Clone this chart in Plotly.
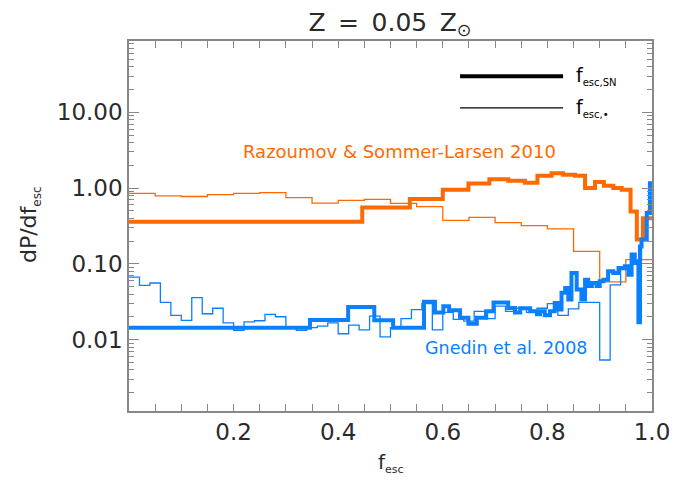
import plotly.graph_objects as go

# ---------------- Data ----------------
# Razoumov & Sommer-Larsen 2010, f_esc,SN (thick)
rsl_sn_edges = [0.0, 0.446, 0.537, 0.600, 0.649, 0.689, 0.725, 0.757, 0.781, 0.808,
                0.830, 0.853, 0.872, 0.891, 0.908, 0.926, 0.942, 0.959, 0.971, 0.983, 1.0]
rsl_sn_vals = [0.36, 0.556, 0.72, 0.95, 1.15, 1.31, 1.25, 1.18, 1.45, 1.57,
               1.5, 1.45, 1.0, 1.2, 1.07, 1.0, 0.95, 0.49, 0.21, 0.40]

# Razoumov & Sommer-Larsen 2010, f_esc,* (thin), bins of 0.05
rsl_star_edges = [0.0, 0.05, 0.10, 0.15, 0.20, 0.25, 0.30, 0.35, 0.40, 0.45, 0.50,
                  0.55, 0.60, 0.65, 0.70, 0.75, 0.80, 0.85, 0.90, 0.95, 1.0]
rsl_star_vals = [0.85, 0.79, 0.775, 0.82, 0.85, 0.87, 0.75, 0.635, 0.69, 0.71,
                 0.63, 0.57, 0.375, 0.41, 0.35, 0.32, 0.29, 0.146, 0.058, 0.114]

# Gnedin et al. 2008, f_esc,SN (thick)
gn_sn_edges = [0.0, 0.346, 0.419, 0.469, 0.505, 0.564, 0.585, 0.601, 0.612, 0.633,
               0.649, 0.665, 0.683, 0.697, 0.725, 0.738, 0.748, 0.767, 0.780, 0.786,
               0.795, 0.805, 0.814, 0.820, 0.827, 0.834, 0.840, 0.846, 0.856, 0.865,
               0.872, 0.878, 0.885, 0.894, 0.900, 0.907, 0.916, 0.926, 0.936, 0.948,
               0.955, 0.961, 0.967, 0.974, 0.977, 0.980, 0.990, 0.996, 1.0]
gn_sn_vals = [0.0144, 0.0182, 0.027, 0.018, 0.0144, 0.0316, 0.0228, 0.0277, 0.0245,
              0.0195, 0.0163, 0.0195, 0.0237, 0.031, 0.0263, 0.0228, 0.026, 0.0237,
              0.0216, 0.0237, 0.021, 0.0237, 0.0306, 0.025, 0.0417, 0.048, 0.034,
              0.076, 0.046, 0.034, 0.062, 0.051, 0.056, 0.051, 0.059, 0.062, 0.080,
              0.076, 0.088, 0.093, 0.072, 0.133, 0.103, 0.017, 0.17, 0.21, 0.47, 1.16]

# Gnedin et al. 2008, f_esc,* (thin), bins of 0.02
gn_star_edges = [i / 50 for i in range(51)]
gn_star_vals = [0.067, 0.052, 0.056, 0.031, 0.021, 0.018, 0.036, 0.022, 0.026, 0.0167,
                0.0133, 0.0172, 0.0178, 0.0216, 0.0201, 0.0144, 0.0133, 0.0144, 0.0151, 0.0167,
                0.0120, 0.0156, 0.0135, 0.0205, 0.0109, 0.0144, 0.019, 0.025, 0.030, 0.0135,
                0.023, 0.0185, 0.0176, 0.0237, 0.019, 0.0277, 0.0237, 0.026, 0.023, 0.026,
                0.030, 0.021, 0.0256, 0.031, 0.031, 0.0054, 0.053, 0.084, 0.11, 0.40]

ORANGE = "#FF6A00"
BLUE = "#0A80FF"
FONT = "DejaVu Sans"
TXT = "#2a2a2a"


def step_xy(edges, vals):
    # histogram-style: each value held over its bin
    return list(edges), list(vals) + [vals[-1]]


def small_sub(base, sub, px=11):
    return f"{base}<sub><span style='font-size:{px}px'>{sub}</span></sub>"


fig = go.Figure()

for edges, vals, color, width in [
    (rsl_star_edges, rsl_star_vals, ORANGE, 1.3),
    (gn_star_edges, gn_star_vals, BLUE, 1.3),
    (rsl_sn_edges, rsl_sn_vals, ORANGE, 4),
    (gn_sn_edges, gn_sn_vals, BLUE, 4),
]:
    x, y = step_xy(edges, vals)
    fig.add_trace(go.Scatter(x=x, y=y, mode="lines", line_shape="hv",
                             line=dict(color=color, width=width), showlegend=False))

# ---------------- Legend (drawn by hand) ----------------
fig.add_shape(type="line", xref="paper", yref="paper", x0=0.633, x1=0.830, y0=0.905, y1=0.905,
              line=dict(color="black", width=4))
fig.add_shape(type="line", xref="paper", yref="paper", x0=0.633, x1=0.830, y0=0.819, y1=0.819,
              line=dict(color="black", width=1.3))
fig.add_annotation(xref="paper", yref="paper", x=0.850, y=0.905, xanchor="left", yanchor="middle",
                   text=small_sub("f", "esc,SN", 10), showarrow=False,
                   font=dict(size=19, color="black"))
fig.add_annotation(xref="paper", yref="paper", x=0.850, y=0.819, xanchor="left", yanchor="middle",
                   text=small_sub("f", "esc,•", 10), showarrow=False,
                   font=dict(size=19, color="black"))

# ---------------- Labels ----------------
fig.add_annotation(x=0.518, y=0.477, xanchor="center", yanchor="middle",
                   text="Razoumov & Sommer-Larsen 2010", showarrow=False,
                   font=dict(size=18, color=ORANGE))
fig.add_annotation(x=0.72, y=-2.114, xanchor="center", yanchor="middle",
                   text="Gnedin et al. 2008", showarrow=False,
                   font=dict(size=17.5, color=BLUE))

# axis titles
fig.add_annotation(xref="paper", yref="paper", x=0.5, y=-0.141, xanchor="center", yanchor="middle",
                   text=small_sub("f", "esc", 11), showarrow=False, font=dict(size=20, color=TXT))
fig.add_annotation(xref="paper", yref="paper", x=-0.189, y=0.503, xanchor="center", yanchor="middle",
                   text=small_sub("dP/df", "esc", 12), textangle=-90, showarrow=False,
                   font=dict(size=22, color=TXT))

minor_y = [m * 10 ** d for d in range(-3, 2) for m in range(2, 10)]

fig.update_layout(
    width=692, height=494,
    margin=dict(l=121, r=48, t=33, b=91),
    paper_bgcolor="white", plot_bgcolor="white",
    font=dict(family=FONT, size=23, color=TXT),
    title=dict(text="Z\u2002=\u20020.05\u2002Z<sub>⊙</sub>", x=0.552, xanchor="center",
               y=0.972, yanchor="middle", font=dict(size=25, color=TXT)),
    xaxis=dict(range=[0, 1], showgrid=False, zeroline=False, showline=True, linecolor="#888",
               linewidth=1.5, mirror="ticks", ticks="inside", ticklen=7, tickcolor="#888",
               automargin=False,
               tickvals=[0.2, 0.4, 0.6, 0.8, 1.0], ticktext=["0.2", "0.4", "0.6", "0.8", "1.0"],
               minor=dict(dtick=0.05, ticks="inside", ticklen=7, tickcolor="#888")),
    yaxis=dict(type="log", range=[-2.94, 1.94], showgrid=False, zeroline=False, showline=True,
               linecolor="#888", linewidth=1.5, mirror="ticks", ticks="inside", ticklen=10,
               tickcolor="#888", automargin=False, tickvals=[0.01, 0.1, 1, 10],
               ticktext=["0.01", "0.10", "1.00", "10.00"],
               minor=dict(tickvals=minor_y, ticks="inside", ticklen=5, tickcolor="#888")),
)

fig.write_html("out.html")
